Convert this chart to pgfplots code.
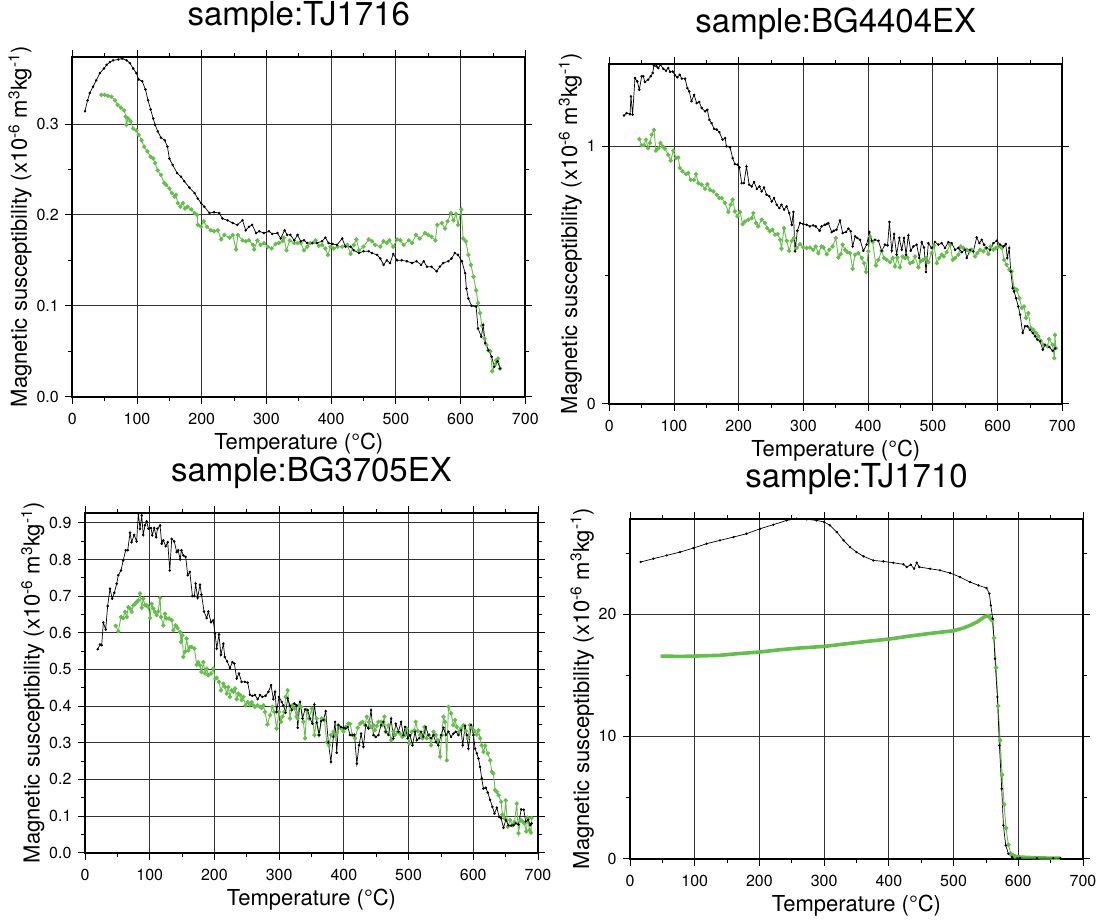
\documentclass[border=0pt]{standalone}
\usepackage{pgfplots}
\pgfplotsset{compat=1.18}
\usepackage{fontspec}
\setmainfont{TeX Gyre Heros}
\definecolor{cgreen}{RGB}{99,190,74}
\pgfplotsset{
  magstyle/.style={
    scale only axis, width=453pt, height=340pt,
    xmin=0, xmax=700, xtick={0,100,...,700}, minor x tick num=1,
    tick align=outside, major tick length=7pt, minor tick length=4pt,
    grid=major, major grid style={black!80, line width=0.8pt},
    axis line style={line width=2pt},
    tick style={black, line width=0.8pt},
    tick label style={font=\fontsize{16}{18}\selectfont},
    xticklabel style={yshift=-6pt},
    yticklabel style={xshift=-3pt},
    label style={font=\fontsize{22}{25}\selectfont},
    xlabel style={yshift=-1pt},
    ylabel style={yshift=-2pt},
    title style={font=\fontsize{33}{37}\selectfont, at={(0.5,1)}, anchor=base, yshift=25pt},
    xlabel={Temperature (°C)},
    ylabel={Magnetic susceptibility (x10\textsuperscript{-6} m\textsuperscript{3}kg\textsuperscript{-1})},
    /pgf/number format/assume math mode=true,
    clip=false,
  },
  onedec/.style={yticklabel style={/pgf/number format/fixed, /pgf/number format/precision=1, /pgf/number format/fixed zerofill}},
  heat/.style={black, line width=0.7pt, mark=*, mark size=0.9pt},
  cool/.style={cgreen, line width=0.9pt, mark=*, mark size=1.7pt},
}
\begin{document}
\begin{tikzpicture}
\useasboundingbox (0,0) rectangle (1099pt,-919pt);
% ---------------- Panel 1: TJ1716
\begin{axis}[magstyle, onedec, at={(72.3pt,-396.7pt)}, anchor=south west,
  title={sample:TJ1716}, ymin=0, ymax=0.374, ytick={0,0.1,0.2,0.3}, minor y tick num=1]
\addplot[cool] table {
45 0.332
50 0.332
55 0.331
60.5 0.330
66 0.326
70 0.321
75 0.318
80 0.315
82.6 0.308
83.6 0.299
86 0.306
90 0.303
94 0.295
99 0.293
102.6 0.288
107 0.282
111 0.275
116 0.270
121 0.264
125 0.262
128 0.257
132 0.249
137 0.244
142 0.235
145 0.233
150 0.229
154 0.224
158 0.220
160 0.222
163 0.213
167 0.209
171 0.213
174 0.207
178 0.209
184 0.206
189 0.202
193 0.200
194 0.189
199 0.187
203 0.193
208 0.187
214 0.183
219 0.182
225 0.183
230 0.173
235 0.178
243 0.175
248 0.178
253 0.162
256 0.178
263 0.172
268 0.171
273 0.172
279 0.167
281 0.162
286 0.172
291 0.167
296 0.169
302 0.165
308 0.163
314 0.168
319 0.169
325 0.171
327 0.175
331 0.161
336 0.172
343 0.169
348 0.169
353 0.169
358 0.161
363 0.165
368 0.169
376 0.172
381 0.166
386 0.167
391 0.163
395 0.156
399 0.165
404 0.163
410 0.165
417 0.165
425 0.167
430 0.157
435 0.167
439 0.173
443 0.161
450 0.165
458 0.173
463 0.171
468 0.167
476 0.165
481 0.171
486 0.169
490 0.172
496 0.165
502 0.173
507 0.172
512 0.167
520 0.172
525 0.169
531 0.178
537 0.174
545 0.180
550 0.178
555 0.176
561 0.172
564 0.189
571 0.191
576 0.185
580 0.193
585 0.202
589 0.194
593 0.201
596 0.189
601 0.206
604 0.174
608 0.171
612 0.156
616 0.145
620 0.132
624 0.117
627 0.103
630 0.092
633 0.078
637 0.064
640 0.057
643 0.051
646 0.050
649 0.028
653 0.035
655 0.040
658 0.042
661 0.031
};
\addplot[heat] table {
19.5 0.314
23.6 0.326
27 0.334
32 0.341
37 0.348
42.6 0.356
49 0.361
53 0.365
58 0.368
63 0.370
71 0.371
77 0.372
84 0.370
89 0.367
94 0.361
99 0.356
102.6 0.349
108 0.347
113 0.338
117 0.326
121 0.316
125 0.306
128 0.299
132 0.292
137 0.285
143 0.282
147 0.275
150 0.262
155 0.255
162 0.246
168 0.242
173 0.237
181 0.230
189 0.224
194 0.218
199 0.213
204 0.209
212 0.202
219 0.203
227 0.202
232 0.196
240 0.194
248 0.191
255 0.189
263 0.194
268 0.183
273 0.187
278 0.189
284 0.180
289 0.182
296 0.180
304 0.182
309 0.179
317 0.180
322 0.174
328 0.183
332 0.178
337 0.178
343 0.172
348 0.178
353 0.171
358 0.172
363 0.169
371 0.169
378 0.169
386 0.171
391 0.175
396 0.169
402 0.168
409 0.167
417 0.174
422 0.165
430 0.165
435 0.161
443 0.158
450 0.160
458 0.160
463 0.158
471 0.156
476 0.152
481 0.145
486 0.150
491 0.147
496 0.157
502 0.150
509 0.150
517 0.149
525 0.147
532 0.149
539 0.145
543 0.149
548 0.143
555 0.143
563 0.138
568 0.143
573 0.147
581 0.149
586 0.152
591 0.158
596 0.156
602 0.149
607 0.136
609 0.119
612 0.108
617 0.100
624 0.099
627 0.075
632 0.066
635 0.079
638 0.059
643 0.051
648 0.044
652 0.033
657 0.039
661 0.031
};
\end{axis}
% ---------------- Panel 2: BG4404EX
\begin{axis}[magstyle, at={(609.3pt,-403.7pt)}, anchor=south west,
  title={sample:BG4404EX}, ymin=0, ymax=1.321, ytick={0,1}, minor ytick={0.5}]
\addplot[cool] table {
46.4 1.028
50 1.004
53.6 1.004
56.7 1.026
60 0.993
62.8 1.013
65.4 1.045
69 1.064
72 0.983
75.7 0.993
79 1.013
82.4 1.000
86 0.991
91 0.967
94.8 0.944
99 0.983
103 0.954
106.6 0.957
109 0.916
113 0.903
118.5 0.892
122 0.896
125.7 0.870
131 0.870
134 0.892
137.6 0.857
142.7 0.851
148 0.835
151.5 0.853
155.6 0.831
160.7 0.825
166 0.812
170 0.799
173.6 0.799
178.8 0.780
184 0.745
187.5 0.773
190.6 0.793
194 0.747
198 0.728
202 0.745
206 0.698
209.7 0.708
214.8 0.715
220 0.721
222.6 0.741
226.7 0.702
230 0.689
235.5 0.715
240.6 0.702
244 0.682
248 0.670
252 0.676
256 0.657
260 0.659
264 0.637
266 0.602
270 0.682
274 0.633
278 0.594
282 0.633
285.4 0.644
289.5 0.605
294.7 0.620
299.8 0.607
305 0.605
310 0.607
315 0.598
319 0.611
323 0.585
328 0.611
331 0.607
336 0.581
340 0.598
345 0.611
350 0.644
354 0.568
357.6 0.581
360.6 0.618
364.2 0.598
367.8 0.589
372 0.585
376 0.524
379.7 0.579
384.9 0.585
390 0.566
393.6 0.546
396.7 0.512
400.3 0.592
402.9 0.650
407 0.628
412 0.537
415.8 0.559
420.9 0.594
424.5 0.566
428.6 0.559
433.8 0.550
437.9 0.566
441.5 0.533
445 0.568
449 0.530
453.4 0.572
457 0.566
460.6 0.568
464.7 0.546
468.8 0.550
472.4 0.572
477.6 0.530
481 0.553
485 0.559
489.4 0.566
493 0.550
498 0.585
501.8 0.615
506 0.546
510 0.566
513.6 0.579
517 0.572
521.4 0.589
526.5 0.618
530.6 0.559
534.3 0.566
539.4 0.579
543 0.611
547 0.605
552.3 0.598
556.4 0.592
560 0.598
565.2 0.572
568.8 0.585
572.9 0.598
578 0.592
582.2 0.605
585.8 0.581
589.4 0.611
593.5 0.598
597.6 0.605
601.2 0.611
606.4 0.605
610 0.559
614 0.540
618 0.521
621.9 0.514
625.4 0.449
629.6 0.443
633.7 0.410
637.3 0.372
640.9 0.378
644 0.333
647.6 0.352
651.2 0.294
655.3 0.287
659.5 0.275
663 0.262
666.7 0.245
670.8 0.229
677 0.223
679.5 0.251
685 0.229
687.6 0.177
688.6 0.267
690 0.216
};
\addplot[heat] table {
22.7 1.120
26.8 1.129
32 1.125
33.5 1.194
36 1.123
39.7 1.265
43.3 1.252
46.4 1.220
50 1.272
52.5 1.272
55 1.250
60 1.259
64 1.272
67 1.285
69 1.314
73 1.311
75.7 1.304
79 1.317
83.5 1.301
87.6 1.294
91 1.304
94 1.289
98 1.291
101.5 1.276
105 1.268
109 1.278
112 1.263
117 1.263
120.6 1.226
123.6 1.213
127 1.175
131 1.200
135 1.168
139 1.172
142.7 1.149
148 1.136
151.5 1.142
154.6 1.103
158 1.090
162 1.068
166 1.065
170 1.055
175 1.026
179 1.032
181 1.000
186.5 0.996
190.6 0.954
194 0.931
198 0.929
201 0.918
204.5 0.857
208 0.857
212 0.922
216 0.851
220 0.844
223.6 0.861
228 0.835
232 0.844
235.5 0.825
239 0.840
243 0.812
247 0.806
251 0.786
254.5 0.799
258.6 0.773
262.7 0.760
266 0.773
270 0.754
274 0.767
278 0.741
282 0.695
284.4 0.745
287 0.592
290.6 0.672
294.7 0.702
299.8 0.698
305 0.695
310 0.689
315 0.693
319 0.689
325 0.672
328 0.689
333 0.695
336 0.698
338.5 0.702
343.6 0.667
347 0.672
351 0.676
356.5 0.712
360.6 0.663
365.8 0.667
369.4 0.680
373 0.670
376 0.611
380 0.650
383 0.644
387.4 0.637
392.6 0.594
397.7 0.618
401.8 0.667
405.5 0.633
410.6 0.637
415.8 0.633
420.9 0.594
426 0.618
430 0.615
432.8 0.706
436.4 0.594
440 0.659
444 0.579
448.2 0.644
451.8 0.598
455.4 0.644
458.5 0.579
462 0.654
465.7 0.594
469.9 0.611
475 0.618
479 0.566
482.7 0.628
486.3 0.607
489.4 0.512
493 0.624
498 0.605
503.3 0.628
508.5 0.618
513.6 0.624
518.8 0.605
524 0.628
529 0.624
534.3 0.598
539.4 0.605
544.6 0.589
549.7 0.598
552.3 0.566
557.4 0.598
562.6 0.592
567.7 0.646
571.9 0.624
575.5 0.637
579 0.618
583 0.605
588.4 0.598
593.5 0.624
598.7 0.633
603.8 0.618
609 0.611
612.6 0.620
615 0.566
618 0.605
620.3 0.514
623.4 0.449
625.5 0.436
628.5 0.410
632 0.378
634.7 0.346
638.8 0.275
642.4 0.301
646 0.301
650 0.287
654.3 0.275
658 0.262
661.5 0.249
665.6 0.242
669.8 0.210
673.4 0.229
680 0.220
685 0.205
689 0.215
};
\end{axis}
% ---------------- Panel 3: BG3705EX
\begin{axis}[magstyle, onedec, at={(85pt,-852.7pt)}, anchor=south west,
  title={sample:BG3705EX}, ymin=0, ymax=0.9275, ytick={0,0.1,...,0.9}, minor y tick num=1]
\addplot[cool] table {
47.4 0.619
51.5 0.604
55.6 0.643
59 0.640
61.8 0.657
64.4 0.643
67 0.670
69.6 0.666
72 0.657
74.7 0.675
77.3 0.679
79.9 0.684
82.4 0.688
85 0.707
87.6 0.668
90 0.693
92.7 0.675
95.3 0.675
98 0.670
100.5 0.640
103 0.679
105.6 0.666
108 0.657
110.8 0.648
113 0.658
116 0.695
117.5 0.643
121 0.620
123.6 0.652
126 0.639
129.8 0.639
134 0.634
136.5 0.607
140 0.620
143 0.613
146.8 0.602
148.4 0.575
150.4 0.593
152 0.534
154.6 0.548
157 0.584
159.7 0.552
162 0.561
164.9 0.561
169 0.557
172.6 0.513
175 0.520
177.7 0.511
180 0.493
183 0.520
185.5 0.489
188 0.502
190.6 0.484
194.7 0.489
198.3 0.502
201 0.475
203.5 0.477
207 0.466
210 0.443
213.8 0.461
216.4 0.452
219 0.434
221.5 0.452
224 0.425
226.7 0.443
229.3 0.439
231.8 0.448
234.4 0.419
237 0.434
239.6 0.430
242 0.416
244.7 0.425
248 0.402
251.4 0.411
255 0.404
257.6 0.411
260 0.402
262.7 0.398
266.9 0.402
270.5 0.398
273 0.395
275.6 0.402
278 0.384
282 0.350
286 0.375
289.5 0.398
292.6 0.384
296 0.339
299.8 0.384
303 0.357
305 0.371
308 0.384
310 0.425
313.2 0.443
316.8 0.366
320.4 0.402
323.5 0.393
327 0.371
328.7 0.366
330.8 0.402
334 0.398
337.5 0.357
340 0.312
342.6 0.389
346 0.366
350.4 0.393
354.5 0.321
358 0.366
361.7 0.321
365.8 0.366
370 0.362
373.5 0.302
377 0.293
380 0.321
383.8 0.330
387.5 0.321
391.6 0.348
395.7 0.339
399.3 0.330
402.9 0.343
407 0.352
409.6 0.352
413.2 0.321
417.3 0.312
421.5 0.341
425 0.352
428.7 0.357
432.8 0.348
435.4 0.371
439 0.357
442 0.343
445.7 0.348
448.3 0.334
450.8 0.346
453.4 0.357
457.5 0.357
459.6 0.348
462.7 0.371
464.7 0.330
468.9 0.348
473 0.307
476.6 0.330
479.2 0.321
483.3 0.330
486.9 0.325
490.5 0.316
494.6 0.321
497 0.339
500.8 0.298
505 0.330
509 0.334
511 0.357
514.2 0.332
517.8 0.321
521.4 0.312
524.5 0.343
528 0.312
531.7 0.321
534.8 0.293
538.4 0.330
542 0.321
545 0.307
548.7 0.262
551.3 0.321
553.9 0.371
556.4 0.357
559 0.252
561.6 0.398
565.7 0.380
569.3 0.348
571.9 0.362
574.5 0.343
578 0.330
581.2 0.339
584.8 0.348
588.4 0.332
591.5 0.312
595 0.348
597.7 0.341
601.8 0.332
605.4 0.322
608 0.334
610.5 0.312
613 0.293
615.7 0.275
618.3 0.292
622.4 0.271
626 0.252
628.6 0.221
631 0.216
633.7 0.171
636.3 0.166
639 0.157
643 0.139
645 0.104
648 0.094
650 0.143
653.3 0.071
657 0.089
660.5 0.075
663.6 0.084
667.2 0.134
669.8 0.053
673 0.090
676 0.085
679 0.080
682 0.058
684 0.095
687 0.062
689 0.055
690 0.095
};
\addplot[heat] table {
19.6 0.555
23.2 0.568
25.8 0.566
28.3 0.628
32 0.609
35 0.673
38.6 0.720
42 0.693
45.3 0.709
49 0.734
51.5 0.757
55.6 0.770
59 0.797
62.9 0.825
66 0.825
69.6 0.873
72 0.847
76 0.867
79.8 0.849
82.4 0.925
85 0.884
87.6 0.920
90 0.867
92.7 0.893
95.3 0.904
98 0.884
102 0.886
104 0.866
107 0.886
110 0.861
112 0.884
116 0.893
118.5 0.843
121 0.852
124.7 0.836
127.8 0.847
131 0.770
134 0.856
138 0.849
141.7 0.820
144 0.825
147 0.800
149 0.825
152 0.811
155.6 0.807
158.7 0.757
162 0.766
166 0.700
169 0.700
171 0.734
174 0.695
177.7 0.731
180 0.704
184 0.658
188 0.640
190.6 0.658
194.7 0.629
198 0.634
201 0.598
203.5 0.557
207 0.595
210 0.540
213.8 0.570
216 0.534
219.5 0.522
224 0.504
227.7 0.520
230.8 0.516
234.4 0.475
238 0.489
242 0.466
247 0.466
251.4 0.464
255 0.431
258.6 0.428
262.7 0.430
266.9 0.419
270.5 0.430
274 0.425
279 0.428
283.4 0.439
287.5 0.457
291 0.419
293.7 0.439
296 0.384
299.8 0.425
304 0.411
306.5 0.402
310 0.382
313.2 0.421
316.8 0.401
319.4 0.389
323.5 0.407
327 0.402
328.7 0.341
332.3 0.411
336 0.366
340 0.391
344 0.389
347.8 0.366
351.4 0.352
354.5 0.404
358 0.355
361.7 0.321
364.8 0.359
368.4 0.362
372 0.386
376 0.301
380 0.248
383.8 0.316
386.4 0.357
389 0.273
391.6 0.348
395.7 0.343
399.3 0.341
402.9 0.339
406 0.343
409.6 0.321
413.2 0.321
416.3 0.322
420 0.243
423.5 0.293
426.6 0.325
430.2 0.289
433.8 0.348
438 0.339
442 0.389
445.7 0.321
449.3 0.316
453.4 0.321
457.5 0.348
461 0.357
464.7 0.330
468.9 0.321
473 0.366
476.6 0.312
480.2 0.352
484.3 0.330
488.4 0.357
492 0.321
494.6 0.343
498.7 0.312
502.3 0.321
506 0.293
510 0.330
512.6 0.307
516.2 0.312
519.3 0.330
523 0.316
526.6 0.343
530.7 0.321
534.8 0.312
538.4 0.321
542 0.302
546 0.293
550.3 0.321
553.9 0.341
557.5 0.321
561.6 0.330
565.7 0.316
569.3 0.325
573 0.330
577 0.321
581.2 0.334
583.7 0.293
587.4 0.346
590 0.321
592.5 0.284
596.6 0.348
600.2 0.321
602.8 0.284
605.4 0.271
608 0.257
610.5 0.234
613 0.203
615.7 0.175
619.3 0.177
622.4 0.164
626 0.144
629.6 0.125
632.7 0.107
636.3 0.123
640 0.098
643 0.094
646.6 0.068
650.2 0.089
654.3 0.075
658.5 0.074
662 0.075
665.7 0.080
669.8 0.077
674 0.118
678 0.117
681 0.085
685 0.090
688 0.075
690 0.080
};
\end{axis}
% ---------------- Panel 4: TJ1710
\begin{axis}[magstyle, at={(630pt,-858.7pt)}, anchor=south west,
  title={sample:TJ1710}, ymin=0, ymax=27.8, ytick={0,10,20}, minor ytick={5,15,25}]
\addplot[cgreen, line width=3.6pt] table {
47.4 16.57
77.3 16.54
100.5 16.57
139 16.63
165 16.76
200.4 16.90
232 17.09
262.8 17.23
300 17.36
335 17.58
366 17.77
400.3 17.96
432.8 18.21
463.7 18.42
500.3 18.64
515 18.86
525.5 19.08
536 19.35
543.5 19.62
548.7 19.81
553.8 19.84
557.5 19.62
};
\addplot[cool, mark size=1.9pt] table {
553.8 19.84
557.5 19.62
559.5 19.49
562.6 18.04
565.7 15.62
568.8 12.48
571.9 9.68
575 6.87
578 4.44
581 2.51
584.7 1.14
588.4 0.41
595 0.19
};
\addplot[cgreen, line width=3.4pt] table {
588.4 0.41
595 0.19
602.8 0.14
628.5 0.08
654 0.05
664.6 0.05
};
\addplot[heat, mark size=0.8pt] table {
16.5 24.26
36 24.53
56.7 24.80
77.3 25.07
98 25.40
118.5 25.76
139 26.03
160 26.30
180 26.57
201 26.98
221.5 27.31
242 27.66
257.6 27.80
273 27.75
288.5 27.66
300 27.53
309 27.26
319.5 26.71
330 26.03
340 25.48
350 25.07
361 24.72
376 24.39
391.5 24.31
407 24.20
422.5 24.07
427.6 23.85
433.8 24.04
439 23.71
443 24.20
447 23.85
463.7 23.71
479 23.58
494.6 23.36
510 23.03
525.5 22.62
538.4 22.35
551 22.13
555.4 21.67
557.5 20.71
560.5 19.62
564 16.35
567.7 13.22
570.8 9.27
574.4 5.72
577 2.73
580.6 1.09
584.7 0.41
590 0.14
603 0.05
628.5 0.05
654 0.05
665 0.05
};
\end{axis}
\end{tikzpicture}
\end{document}
